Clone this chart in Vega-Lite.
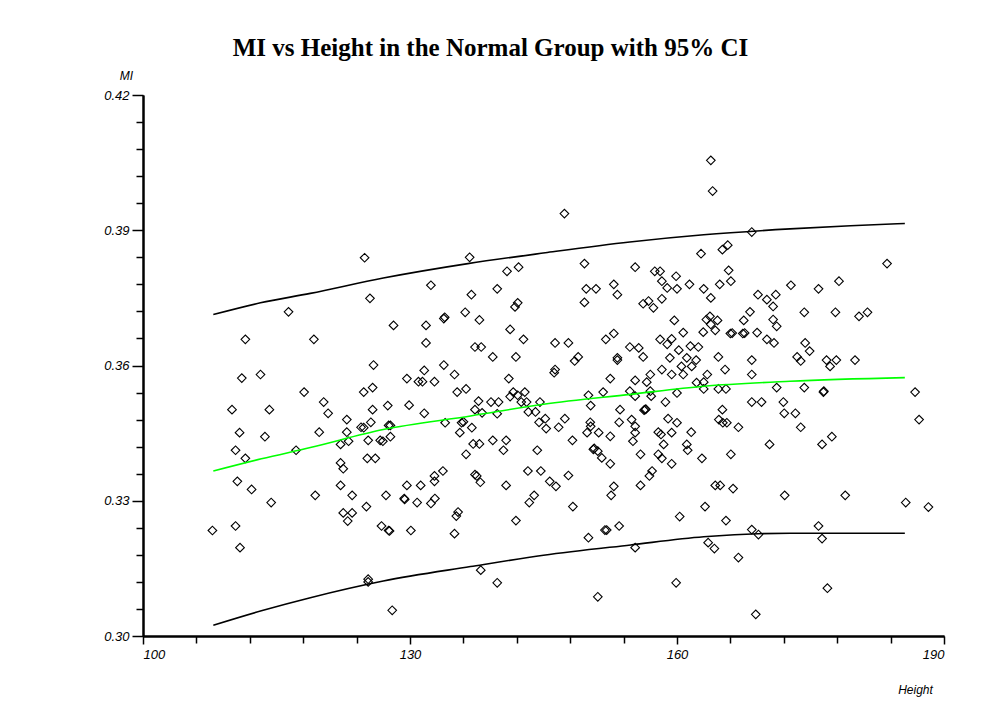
{
  "$schema": "https://vega.github.io/schema/vega-lite/v6.json",
  "width": 801,
  "height": 541,
  "autosize": {"type": "none"},
  "padding": {"left": 143, "top": 95, "right": 57, "bottom": 79},
  "background": "white",
  "title": {
    "text": "MI vs Height in the Normal Group with 95% CI",
    "font": "Liberation Serif",
    "fontSize": 25,
    "fontWeight": "bold",
    "color": "black",
    "anchor": "middle",
    "frame": "group",
    "dx": -53,
    "dy": 27,
    "baseline": "bottom",
    "offset": 10
  },
  "config": {
    "view": {"stroke": null},
    "axis": {"grid": false, "domainColor": "black", "tickColor": "black", "labelColor": "black", "titleColor": "black"}
  },
  "datasets": {
    "pts": [
      {"Height":116.35,"MI":0.3719},{"Height":111.5,"MI":0.3658},{"Height":111.1,"MI":0.3572},{"Height":113.2,"MI":0.358},
      {"Height":118.1,"MI":0.3541},{"Height":110.0,"MI":0.3502},{"Height":114.2,"MI":0.3502},{"Height":110.85,"MI":0.3451},
      {"Height":113.7,"MI":0.3442},{"Height":110.4,"MI":0.3412},{"Height":111.5,"MI":0.3394},{"Height":117.2,"MI":0.3412},
      {"Height":110.6,"MI":0.3343},{"Height":112.2,"MI":0.3325},{"Height":114.4,"MI":0.3296},{"Height":107.8,"MI":0.3234},
      {"Height":110.4,"MI":0.3244},{"Height":110.9,"MI":0.3196},{"Height":119.35,"MI":0.3312},{"Height":119.2,"MI":0.3658},
      {"Height":124.9,"MI":0.3839},{"Height":132.35,"MI":0.3778},{"Height":125.5,"MI":0.3749},{"Height":136.7,"MI":0.384},
      {"Height":136.9,"MI":0.3757},{"Height":133.8,"MI":0.3704},{"Height":133.9,"MI":0.3707},{"Height":136.2,"MI":0.3718},
      {"Height":128.15,"MI":0.3689},{"Height":131.8,"MI":0.3689},{"Height":131.8,"MI":0.365},{"Height":125.9,"MI":0.3601},
      {"Height":133.8,"MI":0.3601},{"Height":131.6,"MI":0.3589},{"Height":135.0,"MI":0.358},{"Height":129.65,"MI":0.3571},
      {"Height":130.95,"MI":0.3564},{"Height":131.4,"MI":0.3564},{"Height":132.75,"MI":0.3564},{"Height":137.3,"MI":0.3641},
      {"Height":138.0,"MI":0.3641},{"Height":124.8,"MI":0.3541},{"Height":125.8,"MI":0.3551},{"Height":135.3,"MI":0.3541},
      {"Height":136.3,"MI":0.3548},{"Height":120.3,"MI":0.3519},{"Height":120.8,"MI":0.3494},{"Height":125.8,"MI":0.3502},
      {"Height":127.5,"MI":0.3511},{"Height":129.9,"MI":0.3512},{"Height":131.6,"MI":0.3494},{"Height":122.9,"MI":0.348},
      {"Height":119.8,"MI":0.3452},{"Height":122.9,"MI":0.3452},{"Height":124.5,"MI":0.3463},{"Height":124.8,"MI":0.3462},
      {"Height":125.6,"MI":0.3474},{"Height":127.6,"MI":0.3467},{"Height":127.8,"MI":0.3467},{"Height":133.95,"MI":0.3473},
      {"Height":135.8,"MI":0.3473},{"Height":136.0,"MI":0.3475},{"Height":135.6,"MI":0.3451},{"Height":122.2,"MI":0.3425},
      {"Height":123.1,"MI":0.3432},{"Height":125.3,"MI":0.3434},{"Height":126.65,"MI":0.3434},{"Height":126.95,"MI":0.3432},
      {"Height":127.8,"MI":0.3442},{"Height":136.3,"MI":0.3403},{"Height":125.2,"MI":0.3394},{"Height":126.1,"MI":0.3394},
      {"Height":122.2,"MI":0.3384},{"Height":122.5,"MI":0.3371},{"Height":133.7,"MI":0.3366},{"Height":132.75,"MI":0.3355},
      {"Height":132.75,"MI":0.3343},{"Height":129.65,"MI":0.3334},{"Height":131.2,"MI":0.3334},{"Height":122.2,"MI":0.3334},
      {"Height":123.5,"MI":0.3312},{"Height":127.3,"MI":0.3312},{"Height":129.35,"MI":0.3305},{"Height":129.4,"MI":0.3303},
      {"Height":130.8,"MI":0.3296},{"Height":132.35,"MI":0.3294},{"Height":132.8,"MI":0.3305},{"Height":125.1,"MI":0.3287},
      {"Height":122.5,"MI":0.3273},{"Height":123.5,"MI":0.3273},{"Height":123.0,"MI":0.3255},{"Height":135.4,"MI":0.3275},
      {"Height":135.2,"MI":0.3266},{"Height":135.0,"MI":0.3227},{"Height":126.8,"MI":0.3244},{"Height":127.6,"MI":0.3234},
      {"Height":127.7,"MI":0.3233},{"Height":130.1,"MI":0.3234},{"Height":125.3,"MI":0.3126},{"Height":125.3,"MI":0.312},
      {"Height":128.0,"MI":0.3057},{"Height":147.35,"MI":0.3937},{"Height":149.6,"MI":0.3826},{"Height":140.9,"MI":0.3809},
      {"Height":142.2,"MI":0.3818},{"Height":139.8,"MI":0.377},{"Height":149.8,"MI":0.377},{"Height":150.9,"MI":0.377},
      {"Height":152.9,"MI":0.378},{"Height":153.3,"MI":0.3757},{"Height":149.6,"MI":0.374},{"Height":142.1,"MI":0.3739},
      {"Height":141.8,"MI":0.373},{"Height":137.8,"MI":0.3701},{"Height":141.25,"MI":0.368},{"Height":142.75,"MI":0.3658},
      {"Height":146.3,"MI":0.365},{"Height":147.8,"MI":0.365},{"Height":152.0,"MI":0.3658},{"Height":152.9,"MI":0.3671},
      {"Height":139.3,"MI":0.3619},{"Height":141.9,"MI":0.3619},{"Height":148.5,"MI":0.361},{"Height":148.9,"MI":0.3619},
      {"Height":153.3,"MI":0.3617},{"Height":153.3,"MI":0.3612},{"Height":146.2,"MI":0.3584},{"Height":146.3,"MI":0.3591},
      {"Height":141.1,"MI":0.3571},{"Height":152.5,"MI":0.3571},{"Height":137.7,"MI":0.3521},{"Height":137.3,"MI":0.3502},
      {"Height":138.1,"MI":0.3495},{"Height":139.1,"MI":0.3519},{"Height":139.95,"MI":0.3519},{"Height":139.8,"MI":0.3493},
      {"Height":141.6,"MI":0.3541},{"Height":142.1,"MI":0.3534},{"Height":142.9,"MI":0.3541},{"Height":141.25,"MI":0.3531},
      {"Height":142.5,"MI":0.3519},{"Height":143.1,"MI":0.3519},{"Height":143.3,"MI":0.3497},{"Height":144.1,"MI":0.3497},
      {"Height":144.6,"MI":0.3519},{"Height":144.5,"MI":0.3474},{"Height":145.2,"MI":0.3482},{"Height":145.3,"MI":0.346},
      {"Height":146.7,"MI":0.3463},{"Height":147.4,"MI":0.3482},{"Height":150.05,"MI":0.3534},{"Height":150.3,"MI":0.3511},
      {"Height":151.7,"MI":0.3541},{"Height":153.6,"MI":0.3502},{"Height":153.5,"MI":0.3474},{"Height":150.25,"MI":0.3474},
      {"Height":150.3,"MI":0.3465},{"Height":149.9,"MI":0.3451},{"Height":151.2,"MI":0.3451},{"Height":152.5,"MI":0.3443},
      {"Height":148.25,"MI":0.3434},{"Height":136.95,"MI":0.3462},{"Height":139.3,"MI":0.3434},{"Height":140.8,"MI":0.3434},
      {"Height":140.5,"MI":0.3412},{"Height":137.1,"MI":0.3426},{"Height":137.8,"MI":0.3426},{"Height":144.3,"MI":0.3412},
      {"Height":150.6,"MI":0.3414},{"Height":150.7,"MI":0.3416},{"Height":151.1,"MI":0.341},{"Height":151.55,"MI":0.3395},
      {"Height":152.5,"MI":0.3382},{"Height":137.3,"MI":0.3358},{"Height":137.5,"MI":0.3355},{"Height":137.9,"MI":0.3341},
      {"Height":140.8,"MI":0.3334},{"Height":143.25,"MI":0.3366},{"Height":144.7,"MI":0.3366},{"Height":145.7,"MI":0.3343},
      {"Height":146.4,"MI":0.3332},{"Height":147.8,"MI":0.3356},{"Height":143.95,"MI":0.3312},{"Height":143.4,"MI":0.3296},
      {"Height":148.3,"MI":0.3287},{"Height":152.9,"MI":0.3332},{"Height":152.6,"MI":0.3312},{"Height":141.9,"MI":0.3256},
      {"Height":150.05,"MI":0.3218},{"Height":151.9,"MI":0.3235},{"Height":152.1,"MI":0.3235},{"Height":153.5,"MI":0.3244},
      {"Height":137.95,"MI":0.3146},{"Height":139.8,"MI":0.3118},{"Height":151.1,"MI":0.3087},{"Height":163.8,"MI":0.4055},
      {"Height":164.0,"MI":0.3987},{"Height":168.4,"MI":0.3896},{"Height":162.7,"MI":0.3848},{"Height":165.1,"MI":0.3857},
      {"Height":165.7,"MI":0.3867},{"Height":155.3,"MI":0.3818},{"Height":157.5,"MI":0.3809},{"Height":158.1,"MI":0.3809},
      {"Height":158.3,"MI":0.3787},{"Height":159.9,"MI":0.3798},{"Height":158.9,"MI":0.3772},{"Height":160.0,"MI":0.377},
      {"Height":161.4,"MI":0.378},{"Height":163.0,"MI":0.377},{"Height":165.8,"MI":0.3811},{"Height":166.05,"MI":0.3787},
      {"Height":164.8,"MI":0.378},{"Height":163.8,"MI":0.375},{"Height":158.3,"MI":0.3748},{"Height":156.2,"MI":0.3737},
      {"Height":156.8,"MI":0.3743},{"Height":157.35,"MI":0.3728},{"Height":159.7,"MI":0.37},{"Height":163.7,"MI":0.3709},
      {"Height":163.3,"MI":0.3702},{"Height":164.55,"MI":0.37},{"Height":163.8,"MI":0.3691},{"Height":168.2,"MI":0.3719},
      {"Height":167.5,"MI":0.37},{"Height":169.1,"MI":0.3757},{"Height":170.1,"MI":0.3746},{"Height":171.1,"MI":0.3757},
      {"Height":170.8,"MI":0.3731},{"Height":172.8,"MI":0.3778},{"Height":170.8,"MI":0.3702},{"Height":171.2,"MI":0.3687},
      {"Height":160.7,"MI":0.3673},{"Height":162.95,"MI":0.3674},{"Height":164.3,"MI":0.3678},{"Height":166.0,"MI":0.3671},
      {"Height":166.2,"MI":0.3672},{"Height":167.4,"MI":0.3671},{"Height":167.6,"MI":0.3672},{"Height":169.0,"MI":0.3673},
      {"Height":170.1,"MI":0.3658},{"Height":170.9,"MI":0.365},{"Height":154.7,"MI":0.3641},{"Height":155.7,"MI":0.3639},
      {"Height":156.2,"MI":0.3619},{"Height":158.1,"MI":0.3658},{"Height":159.4,"MI":0.3659},{"Height":158.9,"MI":0.3647},
      {"Height":161.5,"MI":0.3643},{"Height":162.4,"MI":0.3641},{"Height":160.2,"MI":0.3634},{"Height":159.2,"MI":0.3617},
      {"Height":161.1,"MI":0.3617},{"Height":162.15,"MI":0.3612},{"Height":160.5,"MI":0.3598},{"Height":161.65,"MI":0.3598},
      {"Height":164.65,"MI":0.3619},{"Height":168.4,"MI":0.3612},{"Height":168.4,"MI":0.358},{"Height":165.4,"MI":0.3591},
      {"Height":158.3,"MI":0.3591},{"Height":159.4,"MI":0.358},{"Height":157.0,"MI":0.358},{"Height":155.3,"MI":0.3567},
      {"Height":156.6,"MI":0.3563},{"Height":162.2,"MI":0.3562},{"Height":163.4,"MI":0.358},{"Height":160.7,"MI":0.358},
      {"Height":183.6,"MI":0.3826},{"Height":175.9,"MI":0.377},{"Height":178.2,"MI":0.3787},{"Height":174.3,"MI":0.3718},
      {"Height":177.8,"MI":0.3718},{"Height":180.45,"MI":0.3709},{"Height":181.4,"MI":0.3718},{"Height":174.4,"MI":0.365},
      {"Height":173.5,"MI":0.3619},{"Height":173.9,"MI":0.361},{"Height":174.9,"MI":0.3632},{"Height":176.8,"MI":0.3612},
      {"Height":177.2,"MI":0.3598},{"Height":177.9,"MI":0.3612},{"Height":180.0,"MI":0.3612},{"Height":174.3,"MI":0.3551},
      {"Height":176.45,"MI":0.3541},{"Height":176.5,"MI":0.3543},{"Height":186.75,"MI":0.3541},{"Height":187.2,"MI":0.348},
      {"Height":171.95,"MI":0.3519},{"Height":172.05,"MI":0.3494},{"Height":173.3,"MI":0.3494},{"Height":173.9,"MI":0.3463},
      {"Height":176.3,"MI":0.3425},{"Height":177.4,"MI":0.3442},{"Height":172.1,"MI":0.3312},{"Height":178.9,"MI":0.3312},
      {"Height":185.7,"MI":0.3296},{"Height":188.25,"MI":0.3286},{"Height":175.9,"MI":0.3244},{"Height":176.3,"MI":0.3216},
      {"Height":176.9,"MI":0.3106},{"Height":157.0,"MI":0.3543},{"Height":154.7,"MI":0.3543},{"Height":155.3,"MI":0.3532},
      {"Height":157.1,"MI":0.3532},{"Height":158.7,"MI":0.3519},{"Height":160.0,"MI":0.3539},{"Height":163.0,"MI":0.3563},
      {"Height":163.0,"MI":0.3548},{"Height":164.65,"MI":0.3548},{"Height":165.5,"MI":0.3548},{"Height":156.4,"MI":0.3502},
      {"Height":156.5,"MI":0.3503},{"Height":156.3,"MI":0.3501},{"Height":154.9,"MI":0.348},{"Height":155.3,"MI":0.3465},
      {"Height":155.3,"MI":0.3451},{"Height":155.05,"MI":0.3432},{"Height":159.0,"MI":0.3482},{"Height":160.0,"MI":0.3473},
      {"Height":159.4,"MI":0.3451},{"Height":157.9,"MI":0.3452},{"Height":158.2,"MI":0.3447},{"Height":158.5,"MI":0.3425},
      {"Height":161.6,"MI":0.3452},{"Height":161.1,"MI":0.3425},{"Height":161.2,"MI":0.3412},{"Height":155.9,"MI":0.3403},
      {"Height":157.9,"MI":0.3403},{"Height":158.3,"MI":0.3394},{"Height":159.4,"MI":0.3382},{"Height":162.8,"MI":0.3394},
      {"Height":165.1,"MI":0.3502},{"Height":164.7,"MI":0.348},{"Height":165.15,"MI":0.3473},{"Height":165.6,"MI":0.3473},
      {"Height":166.9,"MI":0.3463},{"Height":168.4,"MI":0.3519},{"Height":169.5,"MI":0.3519},{"Height":171.2,"MI":0.3551},
      {"Height":170.4,"MI":0.3425},{"Height":166.05,"MI":0.3403},{"Height":157.2,"MI":0.3366},{"Height":156.9,"MI":0.3355},
      {"Height":155.9,"MI":0.3334},{"Height":164.3,"MI":0.3334},{"Height":164.85,"MI":0.3334},{"Height":166.3,"MI":0.3327},
      {"Height":163.15,"MI":0.3287},{"Height":160.3,"MI":0.3265},{"Height":165.5,"MI":0.3256},{"Height":155.3,"MI":0.3196},
      {"Height":163.5,"MI":0.3207},{"Height":164.2,"MI":0.3194},{"Height":166.9,"MI":0.3174},{"Height":168.4,"MI":0.3236},
      {"Height":169.15,"MI":0.3225},{"Height":159.9,"MI":0.3118},{"Height":168.85,"MI":0.3048}
    ],
    "lines": [
      {"series":"Upper","Height":107.9,"MI":0.3713},{"series":"Upper","Height":113.2,"MI":0.3739},
      {"series":"Upper","Height":118.8,"MI":0.376},{"series":"Upper","Height":127.0,"MI":0.3794},
      {"series":"Upper","Height":136.5,"MI":0.3826},{"series":"Upper","Height":145.2,"MI":0.385},
      {"series":"Upper","Height":154.7,"MI":0.3874},{"series":"Upper","Height":163.0,"MI":0.389},
      {"series":"Upper","Height":172.7,"MI":0.3903},{"series":"Upper","Height":179.5,"MI":0.391},
      {"series":"Upper","Height":185.6,"MI":0.3915},
      {"series":"Fit","Height":107.9,"MI":0.3366},{"series":"Fit","Height":113.3,"MI":0.3393},
      {"series":"Fit","Height":118.8,"MI":0.3418},{"series":"Fit","Height":127.0,"MI":0.3458},
      {"series":"Fit","Height":136.8,"MI":0.3488},{"series":"Fit","Height":145.0,"MI":0.3514},
      {"series":"Fit","Height":154.8,"MI":0.3536},{"series":"Fit","Height":163.0,"MI":0.3554},
      {"series":"Fit","Height":172.7,"MI":0.3565},{"series":"Fit","Height":185.6,"MI":0.3573},
      {"series":"Lower","Height":107.9,"MI":0.3024},{"series":"Lower","Height":113.3,"MI":0.3056},
      {"series":"Lower","Height":118.8,"MI":0.3085},{"series":"Lower","Height":127.0,"MI":0.3122},
      {"series":"Lower","Height":136.8,"MI":0.3154},{"series":"Lower","Height":145.0,"MI":0.3179},
      {"series":"Lower","Height":154.8,"MI":0.3202},{"series":"Lower","Height":163.0,"MI":0.322},
      {"series":"Lower","Height":172.7,"MI":0.3228},{"series":"Lower","Height":185.6,"MI":0.3228}
    ]
  },
  "layer": [
    {
      "data": {"name": "pts"},
      "mark": {"type": "point", "shape": "diamond", "filled": false, "stroke": "black", "strokeWidth": 1.1, "size": 75, "opacity": 1},
      "encoding": {
        "x": {
          "field": "Height", "type": "quantitative",
          "scale": {"domain": [100, 190], "nice": false, "zero": false},
          "axis": {"orient": "bottom", "title": null, "values": [106,112,118,124,136,142,148,154,166,172,178,184], "labels": false, "tickSize": 7, "tickWidth": 1.5, "domainWidth": 2}
        },
        "y": {
          "field": "MI", "type": "quantitative",
          "scale": {"domain": [0.30, 0.42], "nice": false, "zero": false},
          "axis": {"orient": "left", "title": null, "values": [0.306,0.312,0.318,0.324,0.336,0.342,0.348,0.354,0.366,0.372,0.378,0.384,0.396,0.402,0.408,0.414], "labels": false, "tickSize": 7, "tickWidth": 1.5, "domainWidth": 2}
        }
      }
    },
    {
      "data": {"name": "lines"},
      "mark": {"type": "line", "strokeWidth": 1.6, "interpolate": "monotone"},
      "encoding": {
        "x": {
          "field": "Height", "type": "quantitative",
          "scale": {"domain": [100, 190], "nice": false, "zero": false},
          "axis": {"orient": "bottom", "title": "Height", "values": [100,130,160,190], "format": "d", "tickSize": 8, "tickWidth": 1.5, "domainWidth": 2,
            "labelFont": "Liberation Sans", "labelFontStyle": "italic", "labelFontSize": 13, "labelPadding": 4,
            "titleFont": "Liberation Sans", "titleFontStyle": "italic", "titleFontWeight": "normal", "titleFontSize": 12,
            "titleX": 772, "titleY": 53, "titleAnchor": null, "titleAlign": "center", "titleBaseline": "middle"}
        },
        "y": {
          "field": "MI", "type": "quantitative",
          "scale": {"domain": [0.30, 0.42], "nice": false, "zero": false},
          "axis": {"orient": "left", "title": "MI", "values": [0.30,0.33,0.36,0.39,0.42], "format": ".2f", "tickSize": 11, "tickWidth": 1.5, "domainWidth": 2,
            "labelFont": "Liberation Sans", "labelFontStyle": "italic", "labelFontSize": 13, "labelPadding": 3,
            "titleFont": "Liberation Sans", "titleFontStyle": "italic", "titleFontWeight": "normal", "titleFontSize": 12,
            "titleAngle": 0, "titleX": -17, "titleY": -20, "titleAlign": "center", "titleBaseline": "middle"}
        },
        "color": {
          "field": "series", "type": "nominal",
          "scale": {"domain": ["Upper", "Fit", "Lower"], "range": ["black", "#00ff00", "black"]},
          "legend": null
        }
      }
    }
  ],
  "resolve": {"axis": {"x": "independent", "y": "independent"}}
}
